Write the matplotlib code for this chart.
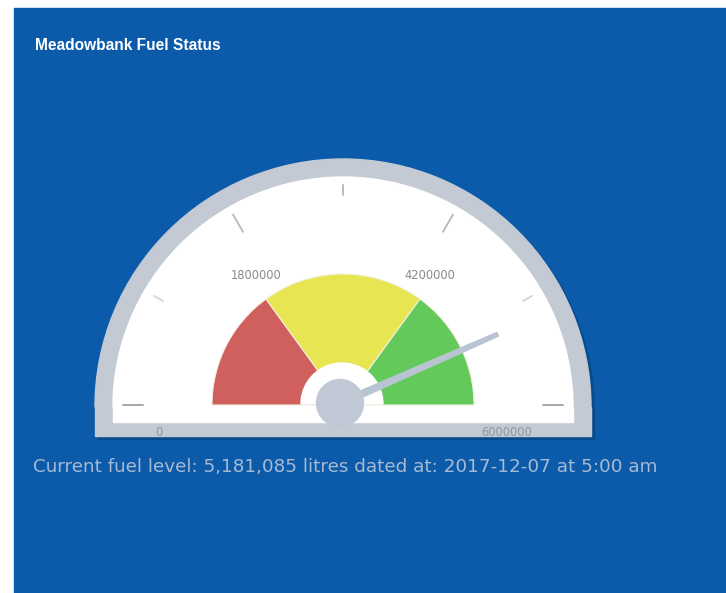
import numpy as np
import matplotlib
matplotlib.use("Agg")
import matplotlib.pyplot as plt
from matplotlib.patches import Wedge, Circle, Rectangle, Polygon

# data
title = "Meadowbank Fuel Status"
max_value = 6000000
band_edges = [0, 1800000, 4200000, 6000000]
band_colors = ["#cf605e", "#e8e552", "#63c95b"]
label_values = [1800000, 4200000]
tick_values = [0, 1000000, 2000000, 3000000, 4000000, 5000000, 6000000]
fuel_level = 5181085
footer = "Current fuel level: 5,181,085 litres dated at: 2017-12-07 at 5:00 am"

W, H = 726, 593
blue = "#0b5baa"
grey = "#c3cad4"

fig = plt.figure(figsize=(W / 100, H / 100), dpi=100, facecolor="white")
ax = fig.add_axes([0, 0, 1, 1])
ax.set_xlim(0, W)
ax.set_ylim(0, H)
ax.set_aspect("equal")
ax.axis("off")

# panel
ax.add_patch(Rectangle((14, 0), W - 14, H - 8, color=blue, zorder=0))

# gauge centre in pixel coords (y up)
cx, cy = 343, H - 407


def ang(v):
    # value -> angle in degrees, 0 on the left, max on the right
    return 180 - 180.0 * v / max_value


# shadow
ax.add_patch(Wedge((cx + 3, cy - 3), 248, 0, 180, color="#084b8c", zorder=1))
ax.add_patch(Rectangle((cx - 248 + 3, H - 439), 496, 32, color="#084b8c", zorder=1))

# outer grey body
ax.add_patch(Wedge((cx, cy), 248, 0, 180, color=grey, zorder=2))
ax.add_patch(Rectangle((cx - 248, H - 436), 496, 29.5, color=grey, zorder=2))

# white face
ax.add_patch(Wedge((cx, cy), 230, 0, 180, color="white", zorder=3))
ax.add_patch(Rectangle((cx - 230, H - 422), 460, 15.5, color="white", zorder=3))

# colour bands
for i in range(len(band_colors)):
    t1 = ang(band_edges[i + 1])
    t2 = ang(band_edges[i])
    ax.add_patch(Wedge((cx, cy + 2), 131, t1, t2, facecolor=band_colors[i],
                       edgecolor="#f4f1e0", linewidth=0.8, zorder=4))

# ticks (ends darker, middle ones lighter and shorter)
for v in tick_values:
    a = np.radians(ang(v))
    if v in (0, max_value):
        r0, r1, col = 200, 220, "#a3a7ad"
    elif v == max_value / 2:
        r0, r1, col = 210, 220, "#b8bbc0"
    elif v in (1000000, 5000000):
        r0, r1, col = 208, 218, "#d4d6d9"
    else:
        r0, r1, col = 200, 220, "#b8bbc0"
    ax.plot([cx + r0 * np.cos(a), cx + r1 * np.cos(a)],
            [cy + 2 + r0 * np.sin(a), cy + 2 + r1 * np.sin(a)],
            color=col, lw=1.4, solid_capstyle="round", zorder=5)

# band labels
for v in label_values:
    a = np.radians(ang(v))
    ax.text(cx + 147 * np.cos(a), cy + 2 + 160 * np.sin(a), str(v),
            ha="center", va="center", fontsize=8.3, color="#8a8a8a",
            family="DejaVu Sans", zorder=5)
ax.text(cx - 188, H - 432, "0", ha="left", va="center", fontsize=8.3,
        color="#8f96a0", zorder=5)
ax.text(cx + 189, H - 432, str(max_value), ha="right", va="center",
        fontsize=8.3, color="#8f96a0", zorder=5)

# hub ring
ax.add_patch(Wedge((cx - 1, cy + 3), 41, 0, 180, color="white", zorder=6))

# needle
a = np.radians(ang(fuel_level))
tip = np.array([cx + 170 * np.cos(a), cy + 2 + 170 * np.sin(a)])
base = np.array([cx - 2, cy + 4])
nrm = np.array([-np.sin(a), np.cos(a)])
ax.add_patch(Polygon([base + 3.5 * nrm, tip + 2.0 * nrm, tip - 2.0 * nrm,
                      base - 3.5 * nrm], closed=True, color="#b9c4d2", zorder=7))
ax.add_patch(Circle((cx - 3, cy + 4), 23.5, color="#bfc8d4", zorder=8))

# texts
ax.text(35, H - 45, title, ha="left", va="center", fontsize=11.2,
        fontweight="bold", color="white", family="Liberation Sans")
ax.text(33, H - 467, footer, ha="left", va="center", fontsize=13.2,
        color="#a8bad2", family="DejaVu Sans")

fig.savefig("out.png", dpi=100, facecolor="white")
